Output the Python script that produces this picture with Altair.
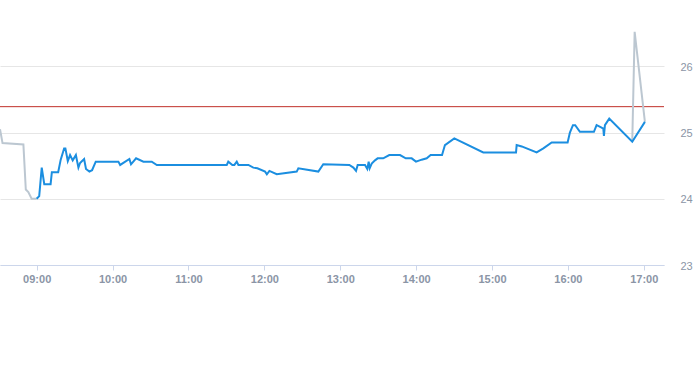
import altair as alt
import pandas as pd

# ---- data ----
pre_times = ["08:31:00", "08:33:00", "08:49:30", "08:51:24", "08:53:24", "08:56:00", "09:00:00"]
pre_values = [25.05, 24.84, 24.82, 24.14, 24.10, 24.00, 24.00]

day_times = [
    "09:00:00", "09:02:00", "09:04:00", "09:06:00", "09:11:00", "09:12:00", "09:17:00",
    "09:19:00", "09:21:42", "09:22:42", "09:24:36", "09:26:24", "09:28:30", "09:31:00",
    "09:33:00", "09:34:18", "09:37:30", "09:39:00", "09:41:42", "09:43:48", "09:46:42",
    "10:04:36", "10:06:00", "10:13:18", "10:14:36", "10:18:36", "10:24:24", "10:31:00",
    "10:35:00", "11:30:18", "11:31:30", "11:34:42", "11:36:18", "11:38:12", "11:39:30",
    "11:47:24", "11:51:18", "11:54:30", "12:00:36", "12:02:00", "12:04:00", "12:09:48",
    "12:25:36", "12:26:54", "12:42:42", "12:46:36", "13:07:12", "13:10:24", "13:12:30",
    "13:13:48", "13:19:36", "13:21:24", "13:22:30", "13:23:18", "13:24:54", "13:27:30",
    "13:29:36", "13:34:00", "13:38:48", "13:47:18", "13:51:48", "13:56:30", "13:59:54",
    "14:04:24", "14:08:24", "14:11:30", "14:20:30", "14:22:48", "14:30:12", "14:53:06",
    "15:19:00", "15:19:30", "15:23:30", "15:35:18", "15:40:36", "15:47:12", "15:59:48",
    "16:01:36", "16:04:00", "16:05:48", "16:09:30", "16:20:36", "16:22:42", "16:25:54",
    "16:28:00", "16:28:30", "16:29:18", "16:32:42", "16:50:54", "17:00:54",
]
day_values = [
    24.00, 24.04, 24.47, 24.22, 24.22, 24.40, 24.40,
    24.59, 24.76, 24.76, 24.57, 24.66, 24.58, 24.66,
    24.47, 24.54, 24.60, 24.45, 24.41, 24.43, 24.56,
    24.56, 24.51, 24.60, 24.52, 24.61, 24.56, 24.56,
    24.51, 24.51, 24.56, 24.51, 24.51, 24.56, 24.51,
    24.51, 24.47, 24.46, 24.41, 24.37, 24.42, 24.37,
    24.41, 24.46, 24.41, 24.52, 24.51, 24.47, 24.42,
    24.51, 24.51, 24.45, 24.56, 24.46, 24.53, 24.58,
    24.61, 24.61, 24.66, 24.66, 24.61, 24.61, 24.56,
    24.59, 24.61, 24.66, 24.66, 24.81, 24.91, 24.70,
    24.70, 24.81, 24.79, 24.70, 24.76, 24.85, 24.85,
    25.00, 25.11, 25.11, 25.01, 25.01, 25.11, 25.08,
    25.06, 24.95, 25.11, 25.21, 24.86, 25.16,
]

post_times = ["16:50:54", "16:52:48", "17:00:54"]
post_values = [24.86, 26.52, 25.16]

previous_close = 25.39

tick_minutes = [540, 600, 660, 720, 780, 840, 900, 960, 1020]
y_ticks = [23, 24, 25, 26]


def to_minutes(t):
    h, m, s = (int(p) for p in t.split(":"))
    return h * 60 + m + s / 60.0


pre_df = pd.DataFrame({"t": [to_minutes(t) for t in pre_times], "v": pre_values})
day_df = pd.DataFrame({"t": [to_minutes(t) for t in day_times], "v": day_values})
post_df = pd.DataFrame({"t": [to_minutes(t) for t in post_times], "v": post_values})
ref_df = pd.DataFrame({"v": [previous_close]})

FONT = "Liberation Sans"
LABEL = "#8b95a6"

x_enc = alt.X(
    "t:Q",
    scale=alt.Scale(domain=[511, 1036], nice=False, zero=False),
    axis=alt.Axis(
        values=tick_minutes,
        labelExpr="(datum.value < 600 ? '0' : '') + floor(datum.value / 60) + ':00'",
        grid=False,
        domainColor="#ccd6eb",
        tickColor="#ccd6eb",
        tickSize=5,
        labelPadding=3,
        labelFlush=False,
        labelOverlap=False,
        labelFont=FONT,
        labelFontSize=11,
        labelFontWeight="bold",
        labelColor=LABEL,
        title=None,
    ),
)
y_enc = alt.Y(
    "v:Q",
    scale=alt.Scale(domain=[23, 27], nice=False, zero=False),
    axis=alt.Axis(
        orient="right",
        values=y_ticks,
        grid=True,
        gridColor="#e6e6e6",
        domain=False,
        ticks=False,
        labelPadding=16,
        labelAlign="left",
        labelBaseline="middle",
        labelOffset=1,
        labelFont=FONT,
        labelFontSize=11,
        labelColor=LABEL,
        title=None,
    ),
)

ref = alt.Chart(ref_df).mark_rule(color="#c0302a", strokeWidth=1).encode(y=y_enc)
pre = alt.Chart(pre_df).mark_line(color="#bcc7d1", strokeWidth=2, clip=True).encode(x=x_enc, y=y_enc)
post = alt.Chart(post_df).mark_line(color="#bcc7d1", strokeWidth=2, clip=True).encode(x=x_enc, y=y_enc)
day = alt.Chart(day_df).mark_line(color="#1b8ee0", strokeWidth=2, clip=True).encode(x=x_enc, y=y_enc)

chart = (
    alt.layer(ref, pre, post, day)
    .properties(
        width=664,
        height=265,
        autosize=alt.AutoSizeParams(type="none"),
        padding={"left": 0, "top": 0, "right": 29, "bottom": 100},
        background="white",
    )
    .configure_view(stroke=None)
)

chart.save("out.html", embed_options={"renderer": "svg", "actions": False})
